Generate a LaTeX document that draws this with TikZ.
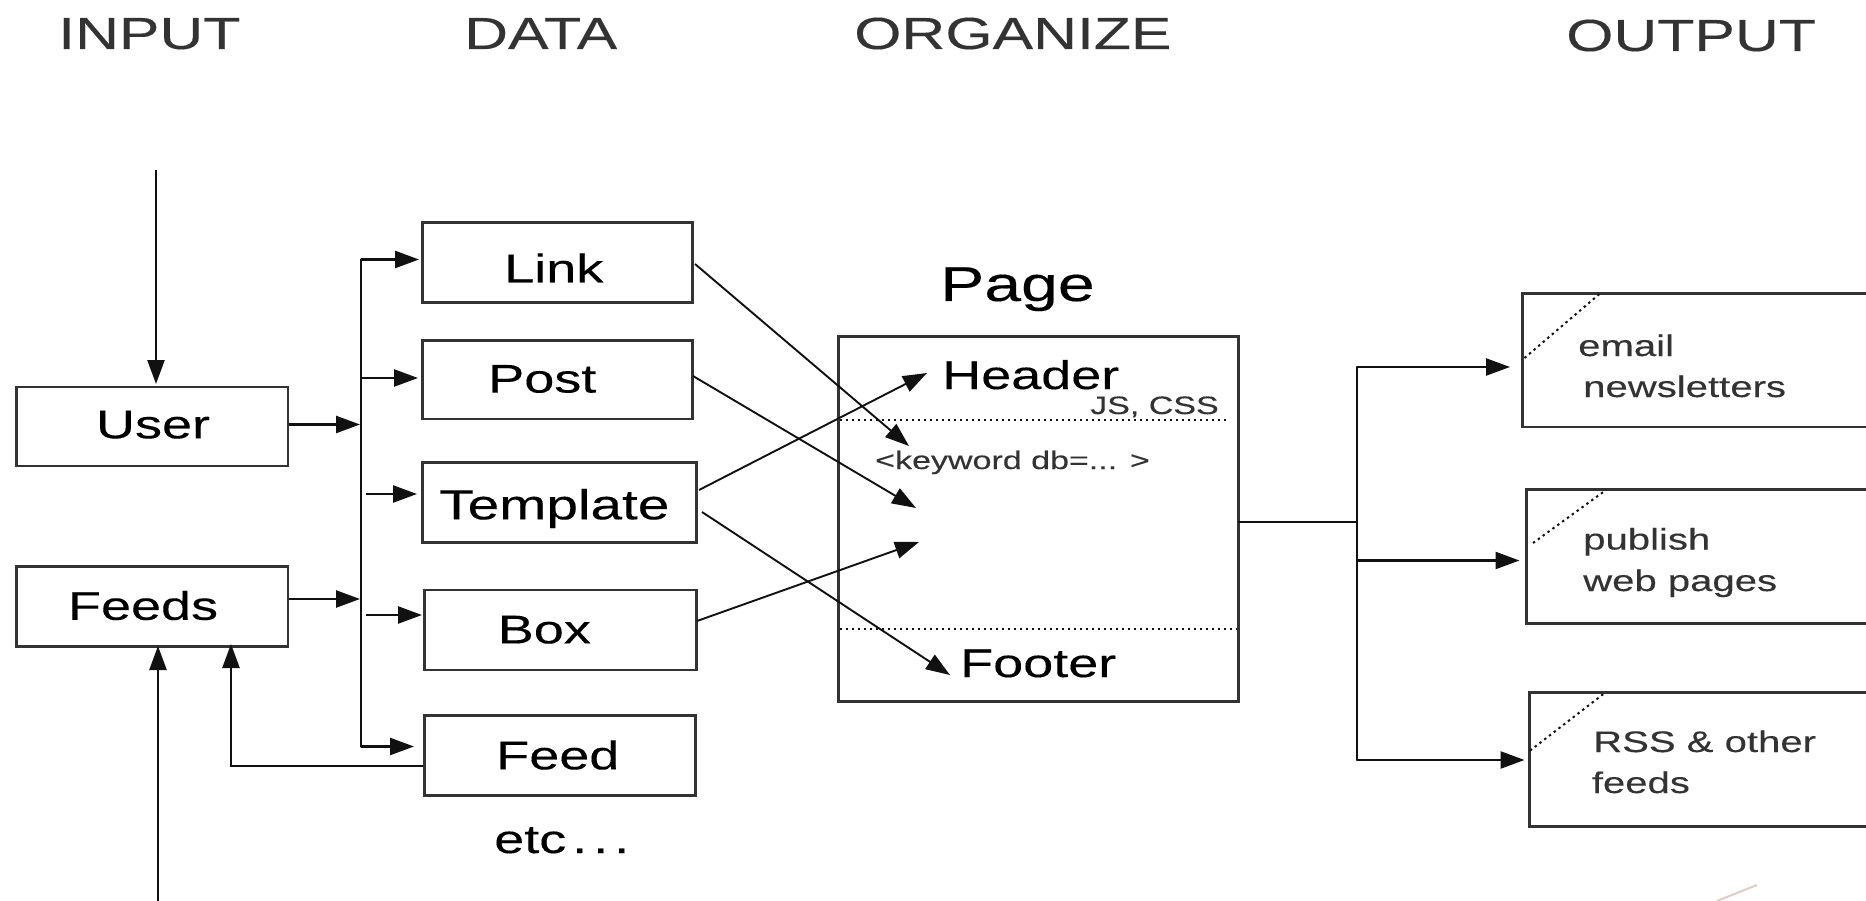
\documentclass[tikz,border=0pt]{standalone}
\usepackage{fontspec}
\usetikzlibrary{arrows.meta,calc}
\setmainfont{Liberation Sans}[FakeStretch=1.35,FakeBold=0.25]
\definecolor{ink}{HTML}{111111}
\definecolor{soft}{HTML}{333333}
\definecolor{faint}{HTML}{E2CCC2}
\newcommand\fsz[1]{\fontsize{#1}{#1}\selectfont}
\newcommand\mv[3]{\hspace*{#1pt}\raisebox{#2pt}{#3}}
\tikzset{
  boxn/.style={draw=soft,line width=2.6pt,inner sep=0pt,anchor=north west,text depth=0pt,text height=29pt,text=black,font=\fsz{40}},
  txt/.style={anchor=base west,inner sep=0pt,text=ink},
  ttl/.style={txt,text=soft,font=\fsz{45}},
  bigt/.style={txt,text=black,font=\fsz{40}},
  smallt/.style={txt,text=soft,font=\fsz{25.2}},
  outt/.style={txt,text=soft,font=\fsz{29.7}},
  conn/.style={draw=ink,line width=2.5pt},
  conna/.style={conn,-{Triangle[length=24pt,width=17pt]}},
  diag/.style={draw=ink,line width=1.9pt,-{Triangle[length=24pt,width=17pt]}},
  dots/.style={draw=ink,line width=2pt,dash pattern=on 2.4pt off 3.6pt},
}
\begin{document}
\begin{tikzpicture}[x=1pt,y=-1pt]
\clip (0,0) rectangle (1866,901);
\fill[white] (0,0) rectangle (1866,901);
% titles
\node[ttl] (tinput) at (58,49) {INPUT};
\node[ttl] (tdata) at (464,49) {DATA};
\node[ttl] (torg) at (854,49) {ORGANIZE};
\node[ttl] (toutput) at (1566,51) {OUTPUT};
% input boxes
\node[boxn,minimum width=271.5pt,minimum height=79pt] (user) at (15,385.5) {\mv{2}{2.5}{User}};
\node[boxn,minimum width=271.5pt,minimum height=80pt] (feeds) at (15,565) {\mv{-18}{1}{Feeds}};
% data boxes
\node[boxn,minimum width=270pt,minimum height=80pt] (link) at (421,221) {\mv{-7}{-5.5}{Link}};
\node[boxn,minimum width=270pt,minimum height=78.5pt] (post) at (421,339) {\mv{-30}{1.5}{Post}};
\node[boxn,minimum width=274pt,minimum height=80pt] (template) at (421,461) {\mv{-10}{-2.5}{\fsz{42}Template}};
\node[boxn,minimum width=272pt,minimum height=80pt] (boxb) at (423,588.5) {\mv{-32}{1}{Box}};
\node[boxn,minimum width=271pt,minimum height=80pt] (feed) at (423,714) {\mv{-4}{0.5}{Feed}};
\node[bigt] (etc) at (494,853) {etc\kern6pt.\kern6pt.\kern6pt.};
% page
\node[bigt,font=\fsz{49}] (pagetitle) at (940,301) {Page};
\node[draw=soft,line width=2.6pt,inner sep=0pt,anchor=north west,minimum width=400pt,minimum height=365pt] (page) at (837,335) {};
\node[bigt] (header) at (942,389) {Header};
\node[bigt] (footer) at (960,677) {Footer};
\node[smallt] (jscss) at (1090,414) {JS, CSS};
\node[smallt] (keyword) at (875,469) {<keyword db=... >};
\coordinate (hl) at (840,420);
\coordinate (hr) at (1227,420);
\coordinate (fl) at (840,629);
\coordinate (fr) at (1237,629);
\draw[dots] (hl) -- (hr);
\draw[dots] (fl) -- (fr);
% output boxes
\node[boxn,minimum width=349pt,minimum height=133pt] (email) at (1521,292.5) {};
\node[boxn,minimum width=345pt,minimum height=134pt] (publish) at (1525,488) {};
\node[boxn,minimum width=342pt,minimum height=134pt] (rss) at (1528,691) {};
\node[outt] (o1a) at (1578,356) {email};
\node[outt] (o1b) at (1583,397) {newsletters};
\node[outt] (o2a) at (1583,549.5) {publish};
\node[outt] (o2b) at (1583,591) {web pages};
\node[outt] (o3a) at (1593,752) {RSS \& other};
\node[outt] (o3b) at (1591.6,793) {feeds};
\coordinate (c1a) at (1524.5,358); \coordinate (c1b) at (1600,293.5);
\coordinate (c2a) at (1533,543); \coordinate (c2b) at (1606,490);
\coordinate (c3a) at (1530,750.6); \coordinate (c3b) at (1606,692);
\draw[dots] (c1a) -- (c1b);
\draw[dots] (c2a) -- (c2b);
\draw[dots] (c3a) -- (c3b);
% buses
\coordinate (bt) at (361,259.5);
\coordinate (bb) at (361,746.5);
\draw[conn,line cap=round] (bt) -- (bb);
\coordinate (obt) at (1357,367);
\coordinate (obb) at (1357,760);
\draw[conn,line cap=round] (obt) -- (obb);
% input arrows
\coordinate (topin) at (156,170);
\coordinate (topout) at (156,384);
\draw[conna] (topin) -- (topout);
\coordinate (botin) at (158,902);
\coordinate (botout) at (158,646);
\draw[conna] (botin) -- (botout);
\coordinate (ub) at (360,424.5);
\coordinate (fb) at (360,599);
\draw[conna] (user.east |- ub) -- (ub);
\draw[conna] (feeds.east |- fb) -- (fb);
% branches
\coordinate (l1) at (419,259.5);
\coordinate (l2) at (418,378);
\coordinate (l3s) at (366,494);
\coordinate (l3) at (417,494);
\coordinate (l4s) at (366,615);
\coordinate (l4) at (422,615);
\coordinate (l5) at (414,746.5);
\draw[conna] (bt) -- (l1);
\draw[conna] (bt |- l2) -- (l2);
\draw[conna] (l3s) -- (l3);
\draw[conna] (l4s) -- (l4);
\draw[conna] (bb) -- (l5);
% feed back to feeds
\coordinate (back) at (423,766);
\coordinate (backtip) at (231,644);
\draw[conna] (back) -| (backtip);
% diagonals
\coordinate (d1s) at (695,264); \coordinate (d1e) at (909,446);
\coordinate (d2s) at (693,376); \coordinate (d2e) at (916,508);
\coordinate (d3s) at (699,490); \coordinate (d3e) at (927,373);
\coordinate (d4s) at (702,512); \coordinate (d4e) at (950,675);
\coordinate (d5s) at (697,621); \coordinate (d5e) at (919,542);
\draw[diag] (d1s) -- (d1e);
\draw[diag] (d2s) -- (d2e);
\draw[diag] (d3s) -- (d3e);
\draw[diag] (d4s) -- (d4e);
\draw[diag] (d5s) -- (d5e);
% output connectors
\coordinate (pout) at (1238,522);
\draw[conn] (pout) -- (pout -| obt);
\coordinate (t1) at (1510,367);
\coordinate (t2) at (1519.5,560.5);
\coordinate (t3) at (1524.5,760);
\draw[conna] (obt) -- (t1);
\draw[conna] (obt |- t2) -- (t2);
\draw[conna] (obb) -- (t3);
% faint stroke at the bottom edge
\coordinate (s1) at (1717,901);
\coordinate (s2) at (1757,885);
\draw[faint,line width=2pt] (s1) -- (s2);
\end{tikzpicture}
\end{document}
